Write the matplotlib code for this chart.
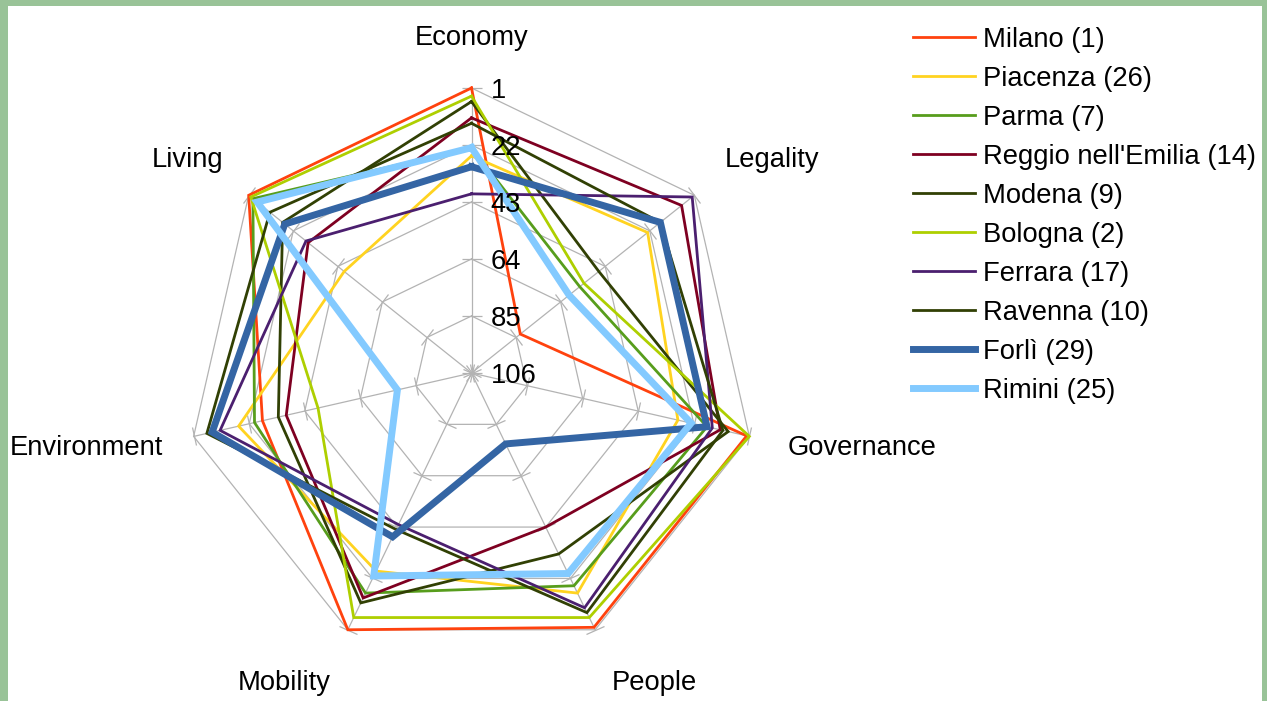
import numpy as np
import matplotlib
matplotlib.use("Agg")
import matplotlib.pyplot as plt
from matplotlib.markers import MarkerStyle
from matplotlib.transforms import Affine2D
from matplotlib.patches import Rectangle
from matplotlib.lines import Line2D

plt.rcParams['font.family'] = ['Liberation Sans', 'DejaVu Sans']

# ---------------- data ----------------
categories = ['Economy', 'Legality', 'Governance', 'People', 'Mobility', 'Environment', 'Living']
tick_values = [1, 22, 43, 64, 85, 106]
tick_labels = ['1', '22', '43', '64', '85', '106']

series_names = ['Milano (1)', 'Piacenza (26)', 'Parma (7)', "Reggio nell'Emilia (14)", 'Modena (9)',
                'Bologna (2)', 'Ferrara (17)', 'Ravenna (10)', 'Forlì (29)', 'Rimini (25)']

milano   = [1, 83, 2, 2, 1, 27, 1]
piacenza = [26, 23, 28, 16, 25, 18, 46]
parma    = [23, 55, 17, 19, 16, 24, 3]
reggio   = [12, 7, 12, 43, 14, 36, 29]
modena   = [6, 46, 9, 32, 12, 33, 17]
bologna  = [4, 53, 1, 6, 6, 48, 2]
ferrara  = [40, 2, 15, 10, 44, 11, 28]
ravenna  = [14, 17, 11, 8, 42, 6, 11]
forli    = [30, 17, 17, 77, 39, 8, 18]
rimini   = [23, 60, 23, 24, 23, 78, 5]

series_values = [milano, piacenza, parma, reggio, modena, bologna, ferrara, ravenna, forli, rimini]
series_colors = ['#ff420e', '#ffd320', '#579d1c', '#7e0021', '#314004',
                 '#aecf00', '#4b1f6f', '#314004', '#3465a4', '#83caff']
series_widths = [2.0, 2.0, 2.0, 2.0, 2.0, 2.0, 2.0, 2.0, 5.0, 5.0]

# ---------------- layout ----------------
W, H = 1267, 701
fig = plt.figure(figsize=(W / 100, H / 100), dpi=100)
fig.patch.set_facecolor('white')

cx, cy, R = 471.5, 373.0, 285.0
ax = fig.add_axes([(cx - R) / W, (H - cy - R) / H, 2 * R / W, 2 * R / H], projection='polar')
ax.set_theta_zero_location('N')
ax.set_theta_direction(-1)
ax.set_ylim(tick_values[-1], tick_values[0])
ax.axis('off')

n = len(categories)
theta = np.arange(n) * 2 * np.pi / n
theta_closed = np.append(theta, theta[0])

grid_color = '#b3b3b3'
# polygon rings
for tv in tick_values[:-1]:
    ax.plot(theta_closed, [tv] * (n + 1), color=grid_color, lw=0.9, zorder=1, clip_on=False)
# spokes + tick marks
for th in theta:
    ax.plot([th, th], [tick_values[-1], tick_values[0]], color=grid_color, lw=0.9, zorder=1, clip_on=False)
    alpha = 90 - np.degrees(th)
    ms = MarkerStyle('|', transform=Affine2D().rotate_deg(alpha))
    ax.plot([th] * len(tick_values), tick_values, linestyle='none', marker=ms, markersize=14,
            markeredgewidth=0.9, color=grid_color, zorder=1, clip_on=False)

# tick labels along Economy axis
for tv, tl in zip(tick_values, tick_labels):
    ax.annotate(tl, xy=(0, tv), xytext=(19, -9.7), textcoords='offset pixels',
                ha='left', va='baseline', fontsize=19.7, color='black', zorder=20)

# series
for i, (vals, col, lw) in enumerate(zip(series_values, series_colors, series_widths)):
    ax.plot(theta_closed, vals + [vals[0]], color=col, lw=lw, zorder=5 + i,
            solid_joinstyle='miter', clip_on=False)

# category labels
label_centers = [(472, 35), (772, 157), (862.5, 445), (654.5, 680),
                 (284, 680), (86.5, 445), (188, 157)]
for cat, (lx, ly) in zip(categories, label_centers):
    fig.text(lx / W, (H - ly - 10) / H, cat, ha='center', va='baseline', fontsize=19.7)

# legend (manual)
row0, dy = 37.0, 39.0
for i, (name, col, lw) in enumerate(zip(series_names, series_colors, series_widths)):
    yy = row0 + i * dy
    fig.add_artist(Line2D([913 / W, 975 / W], [(H - yy) / H] * 2, color=col, lw=lw,
                          transform=fig.transFigure))
    fig.text(983 / W, (H - yy - 10) / H, name, ha='left', va='baseline', fontsize=19.7)

# green frame
frame_col = '#99c398'
fig.add_artist(Rectangle((0, 0), 8 / W, 1, transform=fig.transFigure, color=frame_col, lw=0))
fig.add_artist(Rectangle((0, 1 - 6 / H), 1, 6 / H, transform=fig.transFigure, color=frame_col, lw=0))
fig.add_artist(Rectangle((1 - 5 / W, 0), 5 / W, 1, transform=fig.transFigure, color=frame_col, lw=0))

fig.savefig('out.png', dpi=100)
